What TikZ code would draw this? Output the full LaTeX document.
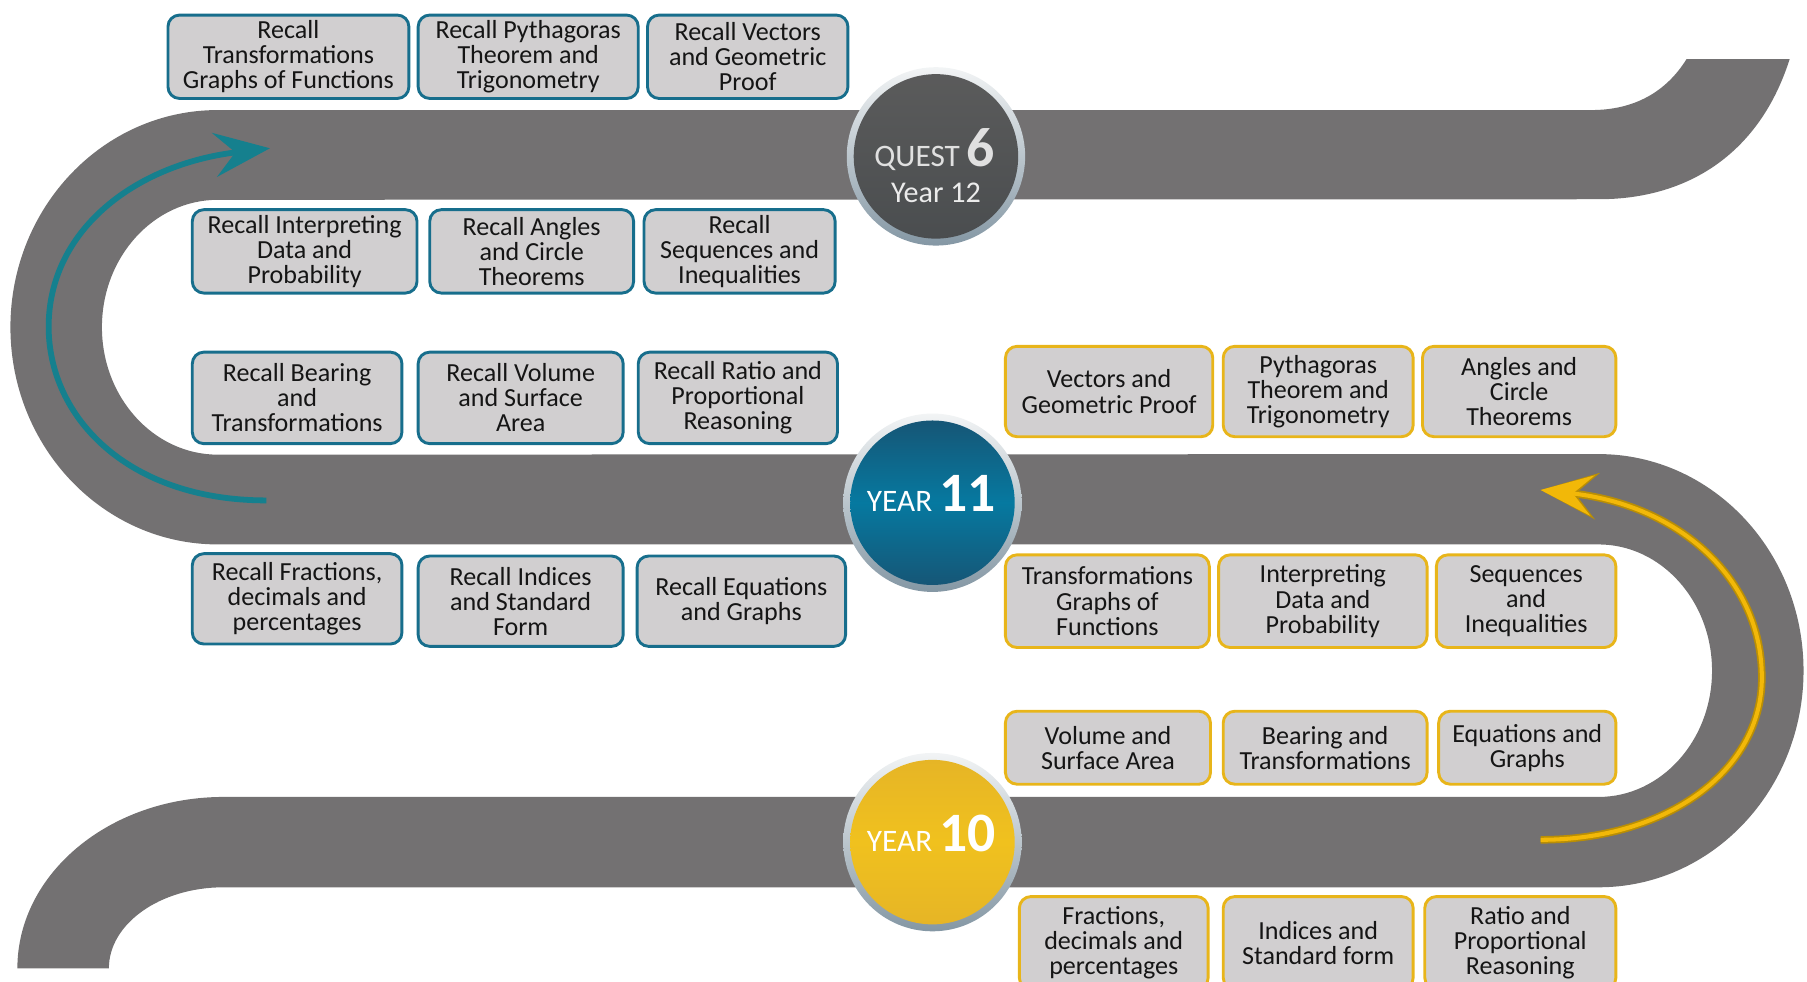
\documentclass[tikz,border=0pt]{standalone}
\usepackage{fontspec}
\setmainfont{Carlito}
\usetikzlibrary{arrows.meta,shadings}
\definecolor{road}{HTML}{737172}
\definecolor{boxfill}{HTML}{D1CFD0}
\definecolor{tealb}{HTML}{176E8C}
\definecolor{goldb}{HTML}{E8B51A}
\definecolor{tealarrow}{HTML}{15808E}
\definecolor{goldarrow}{HTML}{F2B808}
\definecolor{golddark}{HTML}{B98E05}
\definecolor{ringtop}{HTML}{F2F4F5}
\definecolor{ringbot}{HTML}{8497A4}
\definecolor{bluetop}{HTML}{165676}
\definecolor{bluemid}{HTML}{0679A0}
\definecolor{goldtop}{HTML}{E6B526}
\definecolor{goldmid}{HTML}{F0C11E}
\definecolor{questfill}{HTML}{3F3F3F}
\definecolor{boxtext}{HTML}{151515}
\tikzset{
  topic/.style={draw, line width=2.5pt, fill=boxfill, rounded corners=10pt,
    align=center, inner sep=2pt, text=boxtext,
    font=\fontsize{22.5}{21.7}\selectfont},
  recall/.style={topic, draw=tealb},
  core/.style={topic, draw=goldb},
  ring/.style={circle, minimum size=154pt, inner sep=0pt, top color=ringtop, bottom color=ringbot},
  circtext/.style={inner sep=0pt, text=white},
}
\begin{document}
\begin{tikzpicture}[x=1pt,y=-1pt]
\useasboundingbox (0,0) rectangle (1560,847);

% road
\fill[road] (1456,51) -- (1545,51)
  .. controls (1520,130) and (1460,172) .. (1380,172)
  -- (188,172.5) arc[start angle=270, end angle=90, x radius=100, y radius=110]
  -- (1380,392) arc[start angle=-90, end angle=90, x radius=177, y radius=187]
  -- (193,766) arc[start angle=270, end angle=180, x radius=99, y radius=70]
  -- (15,836) arc[start angle=180, end angle=270, x radius=178, y radius=148]
  -- (1380,688) arc[start angle=90, end angle=-90, x radius=98, y radius=109]
  -- (188,470) arc[start angle=90, end angle=270, x radius=179, y radius=187.5]
  -- (1374,95) .. controls (1410,95) and (1438,80) .. (1456,51) -- cycle;

% arrows
\coordinate (ta0) at (230,432);
\coordinate (ta1) at (42,282);
\coordinate (ta2) at (233,128);
\draw[tealarrow, line width=5pt, -{Stealth[length=48pt, width=38pt, inset=18pt]}]
  (ta0) .. controls (110,432) and (42,360) .. (ta1)
        .. controls (42,200) and (115,142) .. (ta2);
\coordinate (ga0) at (1330,725);
\coordinate (ga1) at (1521,585);
\coordinate (ga2) at (1330,423);
\draw[golddark, line width=6.5pt, -{Stealth[length=49pt, width=40pt, inset=19pt]}]
  (ga0) .. controls (1440,725) and (1521,665) .. (ga1)
        .. controls (1521,500) and (1450,436) .. (ga2);
\draw[goldarrow, line width=3.5pt, -{Stealth[length=45pt, width=35pt, inset=17pt]}]
  (ga0) .. controls (1440,725) and (1521,665) .. (ga1)
        .. controls (1521,500) and (1450,436) .. (ga2);

% circles
\node[ring] (c12r) at (808,135) {};
\fill[questfill, opacity=0.84] (808,135) circle (71);
\node[circle, minimum size=142pt, inner sep=0pt] (c12) at (808,135) {};
\node[circtext, anchor=base, text=white!88!black] (c12a) at (807,144)
  {\fontsize{27}{27}\selectfont QUEST {\fontsize{48}{48}\selectfont\bfseries 6}};
\node[circtext, anchor=base, text=white!92!black] (c12b) at (808,175)
  {\fontsize{26}{26}\selectfont Year 12};

\node[ring] (c11r) at (805,434) {};
\node[circle, minimum size=142pt, inner sep=0pt, top color=bluetop, bottom color=bluetop, middle color=bluemid] (c11) at (805,434) {};
\node[circtext, anchor=base] (c11a) at (804,442)
  {\fontsize{27}{27}\selectfont YEAR {\fontsize{48}{48}\selectfont\bfseries 11}};

\node[ring] (c10r) at (805,727) {};
\node[circle, minimum size=142pt, inner sep=0pt, top color=goldtop, bottom color=goldtop, middle color=goldmid] (c10) at (805,727) {};
\node[circtext, anchor=base] (c10a) at (804,735)
  {\fontsize{27}{27}\selectfont YEAR {\fontsize{48}{48}\selectfont\bfseries 10}};

% recall boxes (Year 12)
\node[recall, minimum width=208, minimum height=72] (r1) at (249,49) {Recall\\Transformations\\Graphs of Functions};
\node[recall, minimum width=190, minimum height=72] (r2) at (456,49) {Recall Pythagoras\\Theorem and\\Trigonometry};
\node[recall, minimum width=173, minimum height=72] (r3) at (645.5,49) {Recall Vectors\\and Geometric\\Proof};
\node[recall, minimum width=194, minimum height=72] (r4) at (263,217) {Recall Interpreting\\Data and\\Probability};
\node[recall, minimum width=176, minimum height=72] (r5) at (459,217) {Recall Angles\\and Circle\\Theorems};
\node[recall, minimum width=165, minimum height=72] (r6) at (638.5,217) {Recall\\Sequences and\\Inequalities};
\node[recall, minimum width=181, minimum height=79] (r7) at (256.5,343.5) {Recall Bearing\\and\\Transformations};
\node[recall, minimum width=177, minimum height=79] (r8) at (449.5,343.5) {Recall Volume\\and Surface\\Area};
\node[recall, minimum width=172, minimum height=79] (r9) at (637,343.5) {Recall Ratio and\\Proportional\\Reasoning};
\node[recall, minimum width=181, minimum height=78] (r10) at (256.5,517) {Recall Fractions,\\decimals and\\percentages};
\node[recall, minimum width=177, minimum height=78] (r11) at (449.5,519) {Recall Indices\\and Standard\\Form};
\node[recall, minimum width=180, minimum height=78] (r12) at (640,519) {Recall Equations\\and Graphs};

% core boxes (Years 10-11)
\node[core, minimum width=179, minimum height=78] (k1) at (957.5,338) {Vectors and\\Geometric Proof};
\node[core, minimum width=164, minimum height=78] (k2) at (1138,338) {Pythagoras\\Theorem and\\Trigonometry};
\node[core, minimum width=167, minimum height=78] (k3) at (1311.5,338) {Angles and\\Circle\\Theorems};
\node[core, minimum width=176, minimum height=80] (k4) at (956,519) {Transformations\\Graphs of\\Functions};
\node[core, minimum width=180, minimum height=80] (k5) at (1142,519) {Interpreting\\Data and\\Probability};
\node[core, minimum width=155, minimum height=80] (k6) at (1317.5,519) {Sequences\\and\\Inequalities};
\node[core, minimum width=177, minimum height=63] (k7) at (956.5,645.5) {Volume and\\Surface Area};
\node[core, minimum width=176, minimum height=63] (k8) at (1144,645.5) {Bearing and\\Transformations};
\node[core, minimum width=153, minimum height=63] (k9) at (1318.5,645.5) {Equations and\\Graphs};
\node[core, minimum width=163, minimum height=80] (k10) at (961.5,814) {Fractions,\\decimals and\\percentages};
\node[core, minimum width=164, minimum height=80] (k11) at (1138,814) {Indices and\\Standard form};
\node[core, minimum width=165, minimum height=80] (k12) at (1312.5,814) {Ratio and\\Proportional\\Reasoning};
\end{tikzpicture}
\end{document}
